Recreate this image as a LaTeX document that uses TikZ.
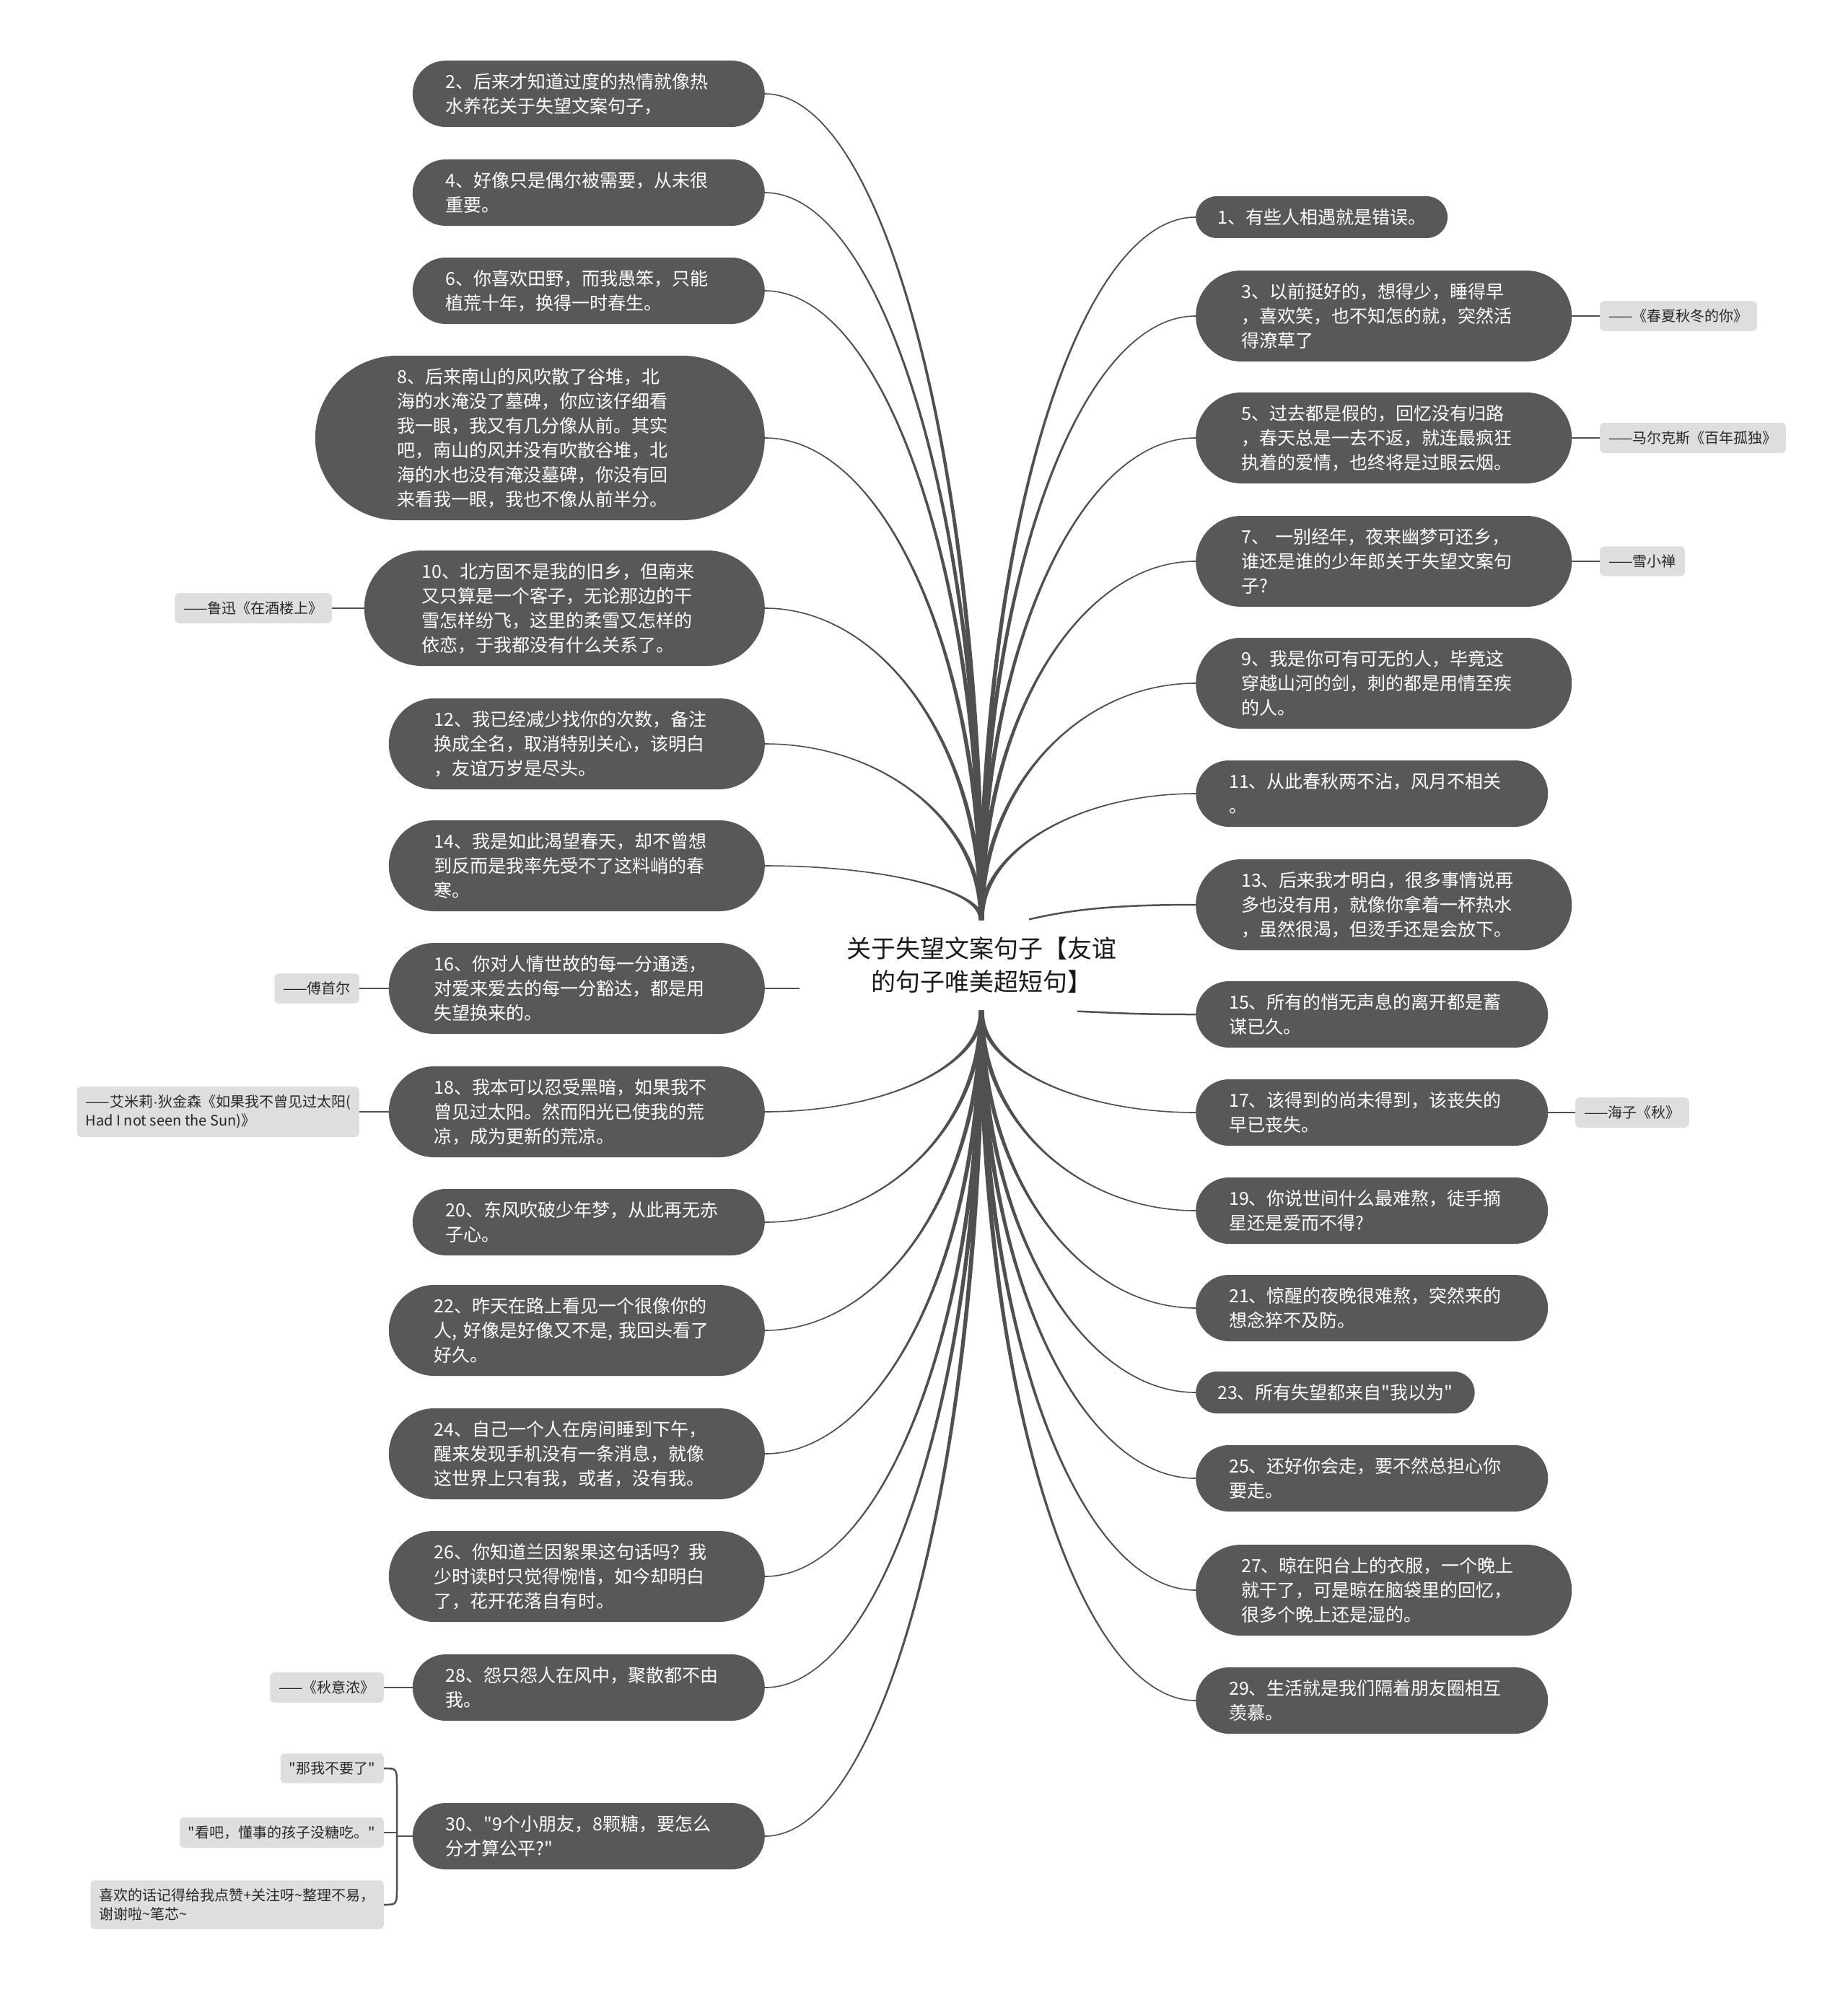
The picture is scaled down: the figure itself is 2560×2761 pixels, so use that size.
\documentclass[tikz,border=0pt]{standalone}
\usepackage{fontspec}
\setmainfont{Noto Sans CJK SC}[Ligatures=TeXOff]
\newfontfamily\latinf{Liberation Sans}
\usetikzlibrary{calc,backgrounds}
\definecolor{nodegray}{RGB}{88,88,88}
\definecolor{linec}{RGB}{80,80,80}
\definecolor{labelgray}{RGB}{222,222,222}
\definecolor{labeltext}{RGB}{40,40,40}
\definecolor{titlec}{RGB}{26,26,26}
\newcommand\mmcurve[2]{%
  \filldraw[linec, line width=1.6pt]
   ($(#1)+(-3,0)$) .. controls ($(#1)!0.55!(#1|-#2)+(-1.5,0)$) and ($(#2)!0.55!(#1|-#2)$) .. (#2)
   .. controls ($(#2)!0.55!(#1|-#2)$) and ($(#1)!0.55!(#1|-#2)+(1.5,0)$) .. ($(#1)+(3,0)$) -- cycle;}
\tikzset{
 leaf/.style={fill=nodegray, text=white, align=left, inner ysep=0pt, font=\fontsize{25}{34}\selectfont},
 pone/.style={leaf, inner xsep=30pt, minimum height=58pt, rounded corners=29pt},
 ptwo/.style={leaf, inner xsep=46pt, text width=396pt, minimum height=92pt, rounded corners=46pt},
 pthree/.style={leaf, inner xsep=63pt, text width=395pt, minimum height=126pt, rounded corners=63pt},
 pfour/.style={leaf, inner xsep=80pt, text width=395pt, minimum height=160pt, rounded corners=80pt},
 psix/.style={leaf, inner xsep=114pt, text width=395pt, minimum height=228pt, rounded corners=114pt},
 tag/.style={fill=labelgray, text=labeltext, align=left, rounded corners=6pt, inner xsep=12pt, inner ysep=11.5pt, font=\fontsize{20}{26}\selectfont},
 link/.style={draw=linec, line width=2.5pt},
}
\begin{document}
\begin{tikzpicture}[x=1pt,y=-1pt]
\useasboundingbox (0,0) rectangle (2560,2761);
% centre
\node[minimum width=504pt, minimum height=127pt, inner sep=0pt, align=center, text=titlec, font=\fontsize{34}{46}\selectfont] (c) at (1360,1338) {关于失望文案句子【友谊\\的句子唯美超短句】};
% left nodes
\node[ptwo, anchor=east] (n2) at (1060,130) {2、后来才知道过度的热情就像热\\水养花关于失望文案句子，};
\node[ptwo, anchor=east] (n4) at (1060,267) {4、好像只是偶尔被需要，从未很\\重要。};
\node[ptwo, anchor=east] (n6) at (1060,403) {6、你喜欢田野，而我愚笨，只能\\植荒十年，换得一时春生。};
\node[psix, anchor=east] (n8) at (1060,607) {8、后来南山的风吹散了谷堆，北\\海的水淹没了墓碑，你应该仔细看\\我一眼，我又有几分像从前。其实\\吧，南山的风并没有吹散谷堆，北\\海的水也没有淹没墓碑，你没有回\\来看我一眼，我也不像从前半分。};
\node[pfour, anchor=east] (n10) at (1060,843) {10、北方固不是我的旧乡，但南来\\又只算是一个客子，无论那边的干\\雪怎样纷飞，这里的柔雪又怎样的\\依恋，于我都没有什么关系了。};
\node[pthree, anchor=east] (n12) at (1060,1031) {12、我已经减少找你的次数，备注\\换成全名，取消特别关心，该明白\\，友谊万岁是尽头。};
\node[pthree, anchor=east] (n14) at (1060,1200) {14、我是如此渴望春天，却不曾想\\到反而是我率先受不了这料峭的春\\寒。};
\node[pthree, anchor=east] (n16) at (1060,1370) {16、你对人情世故的每一分通透，\\对爱来爱去的每一分豁达，都是用\\失望换来的。};
\node[pthree, anchor=east] (n18) at (1060,1541) {18、我本可以忍受黑暗，如果我不\\曾见过太阳。然而阳光已使我的荒\\凉，成为更新的荒凉。};
\node[ptwo, anchor=east] (n20) at (1060,1694) {20、东风吹破少年梦，从此再无赤\\子心。};
\node[pthree, anchor=east] (n22) at (1060,1844) {22、昨天在路上看见一个很像你的\\人, 好像是好像又不是, 我回头看了\\好久。};
\node[pthree, anchor=east] (n24) at (1060,2015) {24、自己一个人在房间睡到下午，\\醒来发现手机没有一条消息，就像\\这世界上只有我，或者，没有我。};
\node[pthree, anchor=east] (n26) at (1060,2185) {26、你知道兰因絮果这句话吗？我\\少时读时只觉得惋惜，如今却明白\\了，花开花落自有时。};
\node[ptwo, anchor=east] (n28) at (1060,2339) {28、怨只怨人在风中，聚散都不由\\我。};
\node[ptwo, anchor=east] (n30) at (1060,2545) {30、"9个小朋友，8颗糖，要怎么\\分才算公平?"};
% right nodes
\node[pone, anchor=west] (n1) at (1657,301) {1、有些人相遇就是错误。};
\node[pthree, anchor=west] (n3) at (1657,438) {3、以前挺好的，想得少，睡得早\\，喜欢笑，也不知怎的就，突然活\\得潦草了};
\node[pthree, anchor=west] (n5) at (1657,607) {5、过去都是假的，回忆没有归路\\，春天总是一去不返，就连最疯狂\\执着的爱情，也终将是过眼云烟。};
\node[pthree, anchor=west] (n7) at (1657,778) {7、 一别经年，夜来幽梦可还乡，\\谁还是谁的少年郎关于失望文案句\\子?};
\node[pthree, anchor=west] (n9) at (1657,947) {9、我是你可有可无的人，毕竟这\\穿越山河的剑，刺的都是用情至疾\\的人。};
\node[ptwo, anchor=west] (n11) at (1657,1100) {11、从此春秋两不沾，风月不相关\\。};
\node[pthree, anchor=west] (n13) at (1657,1254) {13、后来我才明白，很多事情说再\\多也没有用，就像你拿着一杯热水\\，虽然很渴，但烫手还是会放下。};
\node[ptwo, anchor=west] (n15) at (1657,1406) {15、所有的悄无声息的离开都是蓄\\谋已久。};
\node[ptwo, anchor=west] (n17) at (1657,1542) {17、该得到的尚未得到，该丧失的\\早已丧失。};
\node[ptwo, anchor=west] (n19) at (1657,1678) {19、你说世间什么最难熬，徒手摘\\星还是爱而不得?};
\node[ptwo, anchor=west] (n21) at (1657,1813) {21、惊醒的夜晚很难熬，突然来的\\想念猝不及防。};
\node[pone, anchor=west] (n23) at (1657,1930) {23、所有失望都来自"我以为"};
\node[ptwo, anchor=west] (n25) at (1657,2049) {25、还好你会走，要不然总担心你\\要走。};
\node[pthree, anchor=west] (n27) at (1657,2204) {27、晾在阳台上的衣服，一个晚上\\就干了，可是晾在脑袋里的回忆，\\很多个晚上还是湿的。};
\node[ptwo, anchor=west] (n29) at (1657,2357) {29、生活就是我们隔着朋友圈相互\\羡慕。};
% labels
\node[tag, anchor=east] (l10) at (460,843) {——鲁迅《在酒楼上》};
\node[tag, anchor=east] (l16) at (498,1370) {——傅首尔};
\node[tag, anchor=east] (l18) at (498,1541) {——艾米莉{\latinf ·}狄金森《如果我不曾见过太阳(\\Had I not seen the Sun)》};
\node[tag, anchor=east] (l28) at (532,2339) {——《秋意浓》};
\node[tag, anchor=east] (l30a) at (532,2451) {"那我不要了"};
\node[tag, anchor=east] (l30b) at (532,2540) {"看吧，懂事的孩子没糖吃。"};
\node[tag, anchor=east] (l30c) at (532,2640) {喜欢的话记得给我点赞+关注呀\textasciitilde{}整理不易，\\谢谢啦\textasciitilde{}笔芯\textasciitilde{}};
\node[tag, anchor=west] (l3) at (2217,438) {——《春夏秋冬的你》};
\node[tag, anchor=west] (l5) at (2217,607) {——马尔克斯《百年孤独》};
\node[tag, anchor=west] (l7) at (2217,778) {——雪小禅};
\node[tag, anchor=west] (l17) at (2183,1542) {——海子《秋》};
\coordinate (j30) at (550,2545);
\begin{pgfonlayer}{background}
\fill[white] (0,0) rectangle (2560,2761);
% upper left
\mmcurve{c.north}{n2.east}
\mmcurve{c.north}{n4.east}
\mmcurve{c.north}{n6.east}
\mmcurve{c.north}{n8.east}
\mmcurve{c.north}{n10.east}
\mmcurve{c.north}{n12.east}
\mmcurve{c.north}{n14.east}
% upper right
\mmcurve{c.north}{n1.west}
\mmcurve{c.north}{n3.west}
\mmcurve{c.north}{n5.west}
\mmcurve{c.north}{n7.west}
\mmcurve{c.north}{n9.west}
\mmcurve{c.north}{n11.west}
% lower left
\mmcurve{c.south}{n18.east}
\mmcurve{c.south}{n20.east}
\mmcurve{c.south}{n22.east}
\mmcurve{c.south}{n24.east}
\mmcurve{c.south}{n26.east}
\mmcurve{c.south}{n28.east}
\mmcurve{c.south}{n30.east}
% lower right
\mmcurve{c.south}{n17.west}
\mmcurve{c.south}{n19.west}
\mmcurve{c.south}{n21.west}
\mmcurve{c.south}{n23.west}
\mmcurve{c.south}{n25.west}
\mmcurve{c.south}{n27.west}
\mmcurve{c.south}{n29.west}
% side branches
\draw[link] ($(c.north)+(66,0)$) .. controls +(60,-14) and +(-110,0) .. (n13.west);
\draw[link] ($(c.south)+(133,0)$) .. controls +(70,3) and +(-80,0) .. (n15.west);
\draw[link] (c.west |- n16.east) -- (n16.east);
% label links
\draw[link] (n10.west) -- (l10.east);
\draw[link] (n16.west) -- (l16.east);
\draw[link] (n18.west) -- (l18.east);
\draw[link] (n28.west) -- (l28.east);
\draw[link] (n3.east) -- (l3.west);
\draw[link] (n5.east) -- (l5.west);
\draw[link] (n7.east) -- (l7.west);
\draw[link] (n17.east) -- (l17.west);
\draw[link] (n30.west) -- (j30);
\draw[link] (l30b.east) -- (j30 |- l30b.east);
\draw[link] (l30a.east) .. controls (j30 |- l30a.east) .. ($(j30 |- l30a.east)+(0,25)$) -- ($(j30 |- l30c.east)+(0,-25)$) .. controls (j30 |- l30c.east) .. (l30c.east);
\end{pgfonlayer}
\end{tikzpicture}
\end{document}
